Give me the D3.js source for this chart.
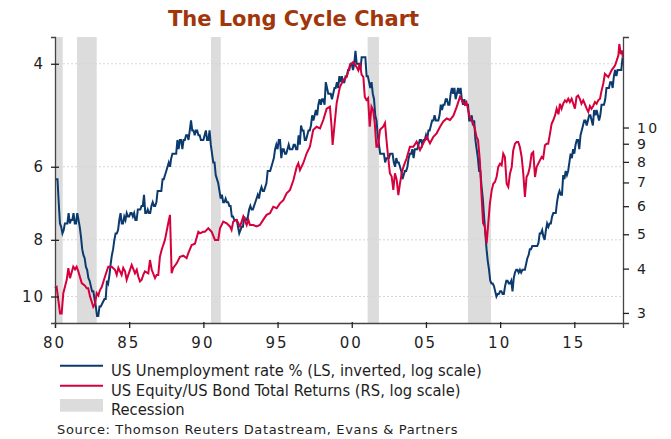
<!DOCTYPE html>
<html>
<head>
<meta charset="utf-8">
<script src="https://cdn.jsdelivr.net/npm/d3@7"></script>
<style>
body { margin: 0; background: #fff; }
svg text { font-family: "DejaVu Sans", Verdana, sans-serif; fill: #1e1e1e; }
</style>
</head>
<body>
<svg width="671" height="439"></svg>
<script>
// US unemployment rate %, monthly from Jan 1980
const unemploymentStart = 1980
const unemployment = [
  6.3, 6.3, 6.3, 6.9, 7.5, 7.6, 7.8, 7.7, 7.5, 7.5, 7.5, 7.2,
  7.5, 7.4, 7.4, 7.2, 7.5, 7.5, 7.2, 7.4, 7.6, 7.9, 8.3, 8.5,
  8.6, 8.9, 9.0, 9.3, 9.4, 9.6, 9.8, 9.8, 10.1, 10.4, 10.8, 10.8,
  10.4, 10.4, 10.3, 10.2, 10.1, 10.1, 9.4, 9.5, 9.2, 8.8, 8.5, 8.3,
  8.0, 7.8, 7.8, 7.7, 7.4, 7.2, 7.5, 7.5, 7.3, 7.4, 7.2, 7.3,
  7.3, 7.2, 7.2, 7.3, 7.2, 7.4, 7.4, 7.1, 7.1, 7.1, 7.0, 7.0,
  6.7, 7.2, 7.2, 7.1, 7.2, 7.2, 7.0, 6.9, 7.0, 7.0, 6.9, 6.6,
  6.6, 6.6, 6.6, 6.3, 6.3, 6.2, 6.1, 6.0, 5.9, 6.0, 5.8, 5.7,
  5.7, 5.7, 5.7, 5.4, 5.6, 5.4, 5.4, 5.6, 5.4, 5.4, 5.3, 5.3,
  5.4, 5.2, 5.0, 5.2, 5.2, 5.3, 5.2, 5.2, 5.3, 5.3, 5.4, 5.4,
  5.4, 5.3, 5.2, 5.4, 5.4, 5.2, 5.5, 5.7, 5.9, 5.9, 6.2, 6.3,
  6.4, 6.6, 6.8, 6.7, 6.9, 6.9, 6.8, 6.9, 6.9, 7.0, 7.0, 7.3,
  7.3, 7.4, 7.4, 7.4, 7.6, 7.8, 7.7, 7.6, 7.6, 7.3, 7.4, 7.4,
  7.3, 7.1, 7.0, 7.1, 7.1, 7.0, 6.9, 6.8, 6.7, 6.8, 6.6, 6.5,
  6.6, 6.6, 6.5, 6.4, 6.1, 6.1, 6.1, 6.0, 5.9, 5.8, 5.6, 5.5,
  5.6, 5.4, 5.4, 5.8, 5.6, 5.6, 5.7, 5.7, 5.6, 5.5, 5.6, 5.6,
  5.6, 5.5, 5.5, 5.6, 5.6, 5.3, 5.5, 5.1, 5.2, 5.2, 5.4, 5.4,
  5.3, 5.2, 5.2, 5.1, 4.9, 5.0, 4.9, 4.8, 4.9, 4.7, 4.6, 4.7,
  4.6, 4.6, 4.7, 4.3, 4.4, 4.5, 4.5, 4.5, 4.6, 4.5, 4.4, 4.4,
  4.3, 4.4, 4.2, 4.3, 4.2, 4.3, 4.3, 4.2, 4.2, 4.1, 4.1, 4.0,
  4.0, 4.1, 4.0, 3.8, 4.0, 4.0, 4.0, 4.1, 3.9, 3.9, 3.9, 3.9,
  4.2, 4.2, 4.3, 4.4, 4.3, 4.5, 4.6, 4.9, 5.0, 5.3, 5.5, 5.7,
  5.7, 5.7, 5.7, 5.9, 5.8, 5.8, 5.8, 5.7, 5.7, 5.7, 5.9, 6.0,
  5.8, 5.9, 5.9, 6.0, 6.1, 6.3, 6.2, 6.1, 6.1, 6.0, 5.8, 5.7,
  5.7, 5.6, 5.8, 5.6, 5.6, 5.6, 5.5, 5.4, 5.4, 5.5, 5.4, 5.4,
  5.3, 5.4, 5.2, 5.2, 5.1, 5.0, 5.0, 4.9, 5.0, 5.0, 5.0, 4.9,
  4.7, 4.8, 4.7, 4.7, 4.6, 4.6, 4.7, 4.7, 4.5, 4.4, 4.5, 4.4,
  4.6, 4.5, 4.4, 4.5, 4.4, 4.6, 4.7, 4.6, 4.7, 4.7, 4.7, 5.0,
  5.0, 4.9, 5.1, 5.0, 5.4, 5.6, 5.8, 6.1, 6.1, 6.5, 6.8, 7.3,
  7.8, 8.3, 8.7, 9.0, 9.4, 9.5, 9.5, 9.6, 9.8, 10.0, 9.9, 9.9,
  9.8, 9.8, 9.9, 9.9, 9.6, 9.4, 9.4, 9.5, 9.5, 9.4, 9.8, 9.3,
  9.1, 9.0, 9.0, 9.1, 9.0, 9.1, 9.0, 9.0, 9.0, 8.8, 8.6, 8.5,
  8.3, 8.3, 8.2, 8.2, 8.2, 8.2, 8.2, 8.1, 7.8, 7.8, 7.7, 7.9,
  8.0, 7.7, 7.5, 7.6, 7.5, 7.5, 7.3, 7.2, 7.2, 7.2, 6.9, 6.7,
  6.6, 6.7, 6.7, 6.2, 6.3, 6.1, 6.2, 6.1, 5.9, 5.7, 5.8, 5.6,
  5.7, 5.5, 5.4, 5.4, 5.6, 5.3, 5.2, 5.1, 5.0, 5.0, 5.1, 5.0,
  4.9, 4.9, 5.0, 5.1, 4.8, 4.9, 4.8, 4.9, 5.0, 4.9, 4.7, 4.7,
  4.7, 4.6, 4.4, 4.4, 4.4, 4.3, 4.3, 4.4, 4.2, 4.1, 4.2, 4.1,
  4.1, 4.1, 4.1, 3.9
]

// US equity / US bond total return ratio
const ratioDates = [
  1980.00, 1980.11, 1980.22, 1980.34, 1980.45, 1980.56, 1980.79, 1980.90, 1981.01, 1981.23,
  1981.35, 1981.46, 1981.57, 1981.80, 1982.02, 1982.14, 1982.24, 1982.36, 1982.47, 1982.58,
  1982.70, 1982.81, 1982.92, 1983.03, 1983.15, 1983.37, 1983.59, 1983.82, 1984.04, 1984.16,
  1984.27, 1984.49, 1984.60, 1984.72, 1984.83, 1984.94, 1985.17, 1985.39, 1985.51, 1985.61,
  1985.73, 1985.84, 1985.95, 1986.06, 1986.29, 1986.40, 1986.52, 1986.74, 1986.85, 1986.96,
  1987.07, 1987.19, 1987.41, 1987.63, 1987.75, 1987.86, 1987.97, 1988.20, 1988.42, 1988.65,
  1988.87, 1988.98, 1989.21, 1989.43, 1989.66, 1989.77, 1989.99, 1990.10, 1990.33, 1990.56,
  1990.78, 1991.00, 1991.12, 1991.34, 1991.57, 1991.79, 1991.90, 1992.01, 1992.24, 1992.47,
  1992.69, 1992.92, 1993.03, 1993.14, 1993.36, 1993.59, 1993.81, 1994.03, 1994.26, 1994.49,
  1994.71, 1994.94, 1995.16, 1995.39, 1995.61, 1995.84, 1996.07, 1996.29, 1996.40, 1996.51,
  1996.73, 1996.96, 1997.18, 1997.40, 1997.63, 1997.86, 1998.08, 1998.31, 1998.53, 1998.64,
  1998.71, 1998.87, 1998.98, 1999.20, 1999.43, 1999.66, 1999.88, 2000.10, 2000.33, 2000.44,
  2000.55, 2000.66, 2000.78, 2000.88, 2000.99, 2001.10, 2001.21, 2001.33, 2001.44, 2001.55,
  2001.66, 2001.77, 2001.90, 2002.00, 2002.12, 2002.24, 2002.34, 2002.45, 2002.57, 2002.69,
  2002.80, 2002.91, 2003.03, 2003.14, 2003.25, 2003.37, 2003.48, 2003.70, 2003.92, 2004.15,
  2004.37, 2004.60, 2004.82, 2005.05, 2005.27, 2005.50, 2005.72, 2005.95, 2006.17, 2006.40,
  2006.62, 2006.85, 2007.08, 2007.29, 2007.50, 2007.61, 2007.73, 2007.95, 2008.17, 2008.29,
  2008.40, 2008.51, 2008.63, 2008.74, 2008.85, 2008.97, 2009.09, 2009.20, 2009.31, 2009.43,
  2009.54, 2009.65, 2009.76, 2009.87, 2009.99, 2010.10, 2010.21, 2010.32, 2010.44, 2010.55,
  2010.66, 2010.78, 2010.88, 2011.00, 2011.11, 2011.22, 2011.33, 2011.45, 2011.56, 2011.67,
  2011.78, 2011.89, 2012.00, 2012.12, 2012.23, 2012.35, 2012.46, 2012.57, 2012.68, 2012.80,
  2012.90, 2013.02, 2013.13, 2013.24, 2013.36, 2013.47, 2013.58, 2013.70, 2013.81, 2013.93,
  2014.03, 2014.14, 2014.25, 2014.37, 2014.48, 2014.59, 2014.70, 2014.82, 2014.93, 2015.04,
  2015.15, 2015.26, 2015.37, 2015.48, 2015.60, 2015.70, 2015.83, 2015.94, 2016.05, 2016.16,
  2016.27, 2016.39, 2016.50, 2016.61, 2016.73, 2016.84, 2016.95, 2017.06, 2017.29, 2017.51,
  2017.74, 2017.86, 2017.97, 2018.03, 2018.13, 2018.20, 2018.27
]
const ratioValues = [
  3.52, 3.55, 3.27, 2.99, 2.99, 3.41, 3.72, 4.01, 3.76, 4.05,
  3.98, 4.05, 3.93, 3.64, 3.58, 3.52, 3.52, 3.34, 3.23, 3.12,
  3.18, 3.41, 3.36, 3.48, 3.55, 3.80, 4.05, 4.05, 3.97, 3.84,
  4.02, 3.84, 4.02, 3.93, 3.72, 3.84, 4.10, 3.88, 3.97, 3.80,
  3.68, 3.72, 3.84, 3.93, 3.88, 4.23, 3.97, 3.76, 3.84, 3.84,
  4.32, 4.52, 4.82, 5.37, 5.67, 3.88, 4.02, 4.14, 4.32, 4.35,
  4.28, 4.42, 4.66, 4.70, 5.08, 5.03, 5.08, 5.08, 5.20, 5.08,
  4.82, 4.82, 5.20, 5.43, 5.37, 5.26, 5.14, 5.43, 5.49, 5.26,
  5.61, 5.31, 5.49, 5.31, 5.31, 5.26, 5.31, 5.49, 5.67, 5.73,
  5.98, 5.92, 6.11, 6.24, 6.52, 6.67, 7.11, 7.75, 7.93, 7.59,
  7.93, 8.46, 8.83, 9.84, 10.05, 9.95, 10.5, 11.3, 11.45, 10.05,
  8.93, 10.5, 11.7, 13.0, 13.6, 13.9, 15.0, 15.3, 14.8, 14.5,
  15.2, 14.1, 13.9, 12.2, 11.95, 12.1, 10.05, 11.45, 11.2, 10.3,
  8.83, 8.83, 9.84, 9.95, 10.05, 10.3, 9.22, 8.27, 7.43, 7.27,
  6.67, 7.43, 7.11, 6.45, 6.96, 7.43, 7.75, 8.19, 8.83, 8.83,
  9.12, 8.64, 9.03, 9.42, 9.03, 9.42, 9.63, 10.05, 10.4, 10.6,
  10.5, 10.8, 11.45, 12.2, 11.8, 11.6, 11.8, 10.7, 10.3, 9.95,
  9.42, 9.22, 8.10, 6.52, 5.37, 5.26, 4.71, 5.37, 6.11, 6.65,
  6.94, 7.02, 7.25, 7.74, 7.91, 7.82, 8.44, 8.26, 6.94, 6.80,
  7.41, 7.74, 8.62, 9.00, 9.10, 9.10, 8.81, 8.26, 7.41, 6.37,
  7.25, 7.41, 7.74, 8.44, 8.53, 7.25, 7.74, 7.91, 8.08, 8.26,
  8.18, 8.91, 9.00, 9.00, 9.61, 10.25, 10.48, 10.82, 11.3, 10.9,
  11.67, 11.3, 11.67, 11.93, 11.8, 12.05, 11.8, 12.05, 11.67, 11.3,
  12.2, 12.3, 12.05, 11.67, 11.93, 11.67, 11.3, 11.06, 11.5, 11.3,
  11.5, 11.8, 11.67, 11.93, 12.05, 12.73, 13.29, 14.17, 13.87, 14.5,
  14.96, 15.47, 15.98, 17.2, 16.1, 16.5, 15.8
]

const recessions = [[1980.0, 1980.52], [1981.48, 1982.81], [1990.51, 1991.17], [2001.07, 2001.83], [2007.83, 2009.38]]
const xTicks = [1980, 1985, 1990, 1995, 2000, 2005, 2010, 2015]
const xTickLabels = ["80", "85", "90", "95", "00", "05", "10", "15"]
const leftTicks = [4, 6, 8, 10]
const rightTicks = [3, 4, 5, 6, 7, 8, 9, 10]
const legendLabels = [
  "US Unemployment rate % (LS, inverted, log scale)",
  "US Equity/US Bond Total Returns (RS, log scale)",
  "Recession"
]

const blue = "#0b3a6e"
const red = "#d6003c"
const grey = "#dcdcdc"

const svg = d3.select("svg")
const margin = {top: 37, right: 48, bottom: 116, left: 55}
const width = 671 - margin.left - margin.right
const height = 439 - margin.top - margin.bottom

const chart = svg.append("g").attr("transform", `translate(${margin.left}, ${margin.top})`)

const x = d3.scaleLinear().domain([1980, 2018.28]).range([0, width])
const yLeft = d3.scaleLog().domain([3.6, 11.1]).range([0, height])
const yRight = d3.scaleLog().domain([2.81, 18.0]).range([height, 0])

// recession bands
chart.selectAll(".recession").data(recessions).enter().append("rect")
  .attr("class", "recession")
  .attr("x", d => x(d[0]))
  .attr("width", d => x(d[1]) - x(d[0]))
  .attr("y", 0)
  .attr("height", height)
  .attr("fill", grey)

// grid lines at left ticks
chart.selectAll(".grid").data(leftTicks).enter().append("line")
  .attr("x1", 0).attr("x2", width)
  .attr("y1", d => yLeft(d)).attr("y2", d => yLeft(d))
  .attr("stroke", "#d6d6d6").attr("stroke-dasharray", "2,2")

const unempData = unemployment.map((v, i) => ({t: unemploymentStart + i / 12, v: v}))
const ratioData = ratioDates.map((t, i) => ({t: t, v: ratioValues[i]}))

const unempLine = d3.line().x(d => x(d.t)).y(d => yLeft(d.v))
const ratioLine = d3.line().x(d => x(d.t)).y(d => yRight(d.v))

chart.append("path").datum(unempData)
  .attr("d", unempLine).attr("fill", "none").attr("stroke", blue).attr("stroke-width", 2)

chart.append("path").datum(ratioData)
  .attr("d", ratioLine).attr("fill", "none").attr("stroke", red).attr("stroke-width", 2)

// axes
const xAxis = d3.axisBottom(x).tickValues(xTicks).tickFormat((d, i) => xTickLabels[i]).tickSize(5).tickPadding(9)
const leftAxis = d3.axisLeft(yLeft).tickValues(leftTicks).tickFormat(d3.format("d")).tickSize(4).tickPadding(6)
const rightAxis = d3.axisRight(yRight).tickValues(rightTicks).tickFormat(d3.format("d")).tickSize(6).tickPadding(8)

const gx = chart.append("g").attr("transform", `translate(0, ${height})`).call(xAxis)
const gl = chart.append("g").call(leftAxis)
const gr = chart.append("g").attr("transform", `translate(${width}, 0)`).call(rightAxis)

;[gx, gl, gr].forEach(g => {
  g.select(".domain").attr("stroke", "#444").attr("stroke-width", 1.3)
  g.selectAll(".tick line").attr("stroke", "#222").attr("stroke-width", 1.3)
  g.selectAll("text").attr("font-size", 15).attr("font-family", null).style("letter-spacing", "2px")
})
gr.selectAll("text").attr("font-size", 14).style("letter-spacing", "2.3px")
gl.selectAll(".tick line").attr("x1", 4)
gx.selectAll(".tick line").attr("y1", -1)
gx.selectAll("text").attr("dx", -1)

// title
svg.append("text")
  .attr("x", 293.5).attr("y", 26)
  .attr("text-anchor", "middle")
  .style("font-weight", "bold").style("font-size", "21px")
  .style("fill", "#a0360a")
  .text("The Long Cycle Chart")

// legend
const legend = svg.append("g").attr("transform", "translate(60, 0)")
legend.append("line").attr("x1", 0).attr("x2", 43).attr("y1", 365.7).attr("y2", 365.7).attr("stroke", blue).attr("stroke-width", 2)
legend.append("line").attr("x1", 0).attr("x2", 43).attr("y1", 385.7).attr("y2", 385.7).attr("stroke", red).attr("stroke-width", 2)
legend.append("rect").attr("x", 0).attr("y", 399).attr("width", 43).attr("height", 12.7).attr("fill", grey)

legendLabels.forEach(function(d, i) {
  legend.append("text").attr("x", 51).attr("y", 376 + 19.7 * i)
    .style("font-family", "'DejaVu Sans Condensed', 'DejaVu Sans', sans-serif")
    .attr("font-size", 16.4).text(d)
})

svg.append("text").attr("x", 57).attr("y", 434).attr("font-size", 13).style("letter-spacing", "0.65px")
  .text("Source: Thomson Reuters Datastream, Evans & Partners")
</script>
</body>
</html>
